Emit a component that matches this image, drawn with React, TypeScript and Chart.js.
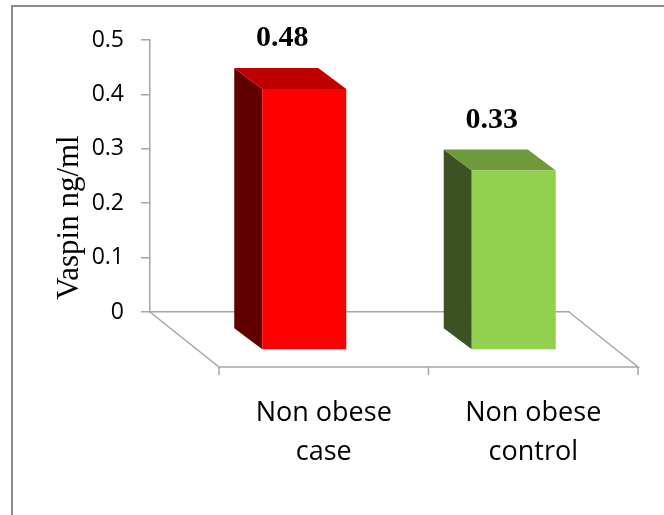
import React, { useEffect, useRef } from 'react';
import { Chart, registerables } from 'chart.js';

Chart.register(...registerables);

// ---- data ----
const categories = [['Non obese', 'case'], ['Non obese', 'control']];
const vaspinValues = [0.48, 0.33];
const valueLabels = ['0.48', '0.33'];
const yTickLabels = ['0', '0.1', '0.2', '0.3', '0.4', '0.5'];
const yAxisTitle = 'Vaspin ng/ml';

// ---- styles ----
const frontColors = ['#FF0000', '#92D050'];
const topColors = ['#C00000', '#6E9A3C'];
const sideColors = ['#600000', '#3C5222'];
const AXIS_GRAY = '#A6A6A6';
const BACK = { dx: 21.5, dy: 17 }; // wall plane -> back face of bars
const DEPTH = { dx: 28, dy: 21 }; // bar depth
const FLOOR = { dx: 69, dy: 55 }; // wall plane -> front edge of floor

const bar3dPlugin = {
  id: 'bar3d',
  beforeDatasetsDraw(chart: any) {
    const { ctx, chartArea } = chart;
    const y0 = chart.scales.y.getPixelForValue(0);
    const left = chartArea.left;
    const right = chartArea.right;
    ctx.save();
    ctx.strokeStyle = AXIS_GRAY;
    ctx.lineWidth = 1.5;
    ctx.beginPath();
    ctx.moveTo(left, y0);
    ctx.lineTo(left + FLOOR.dx, y0 + FLOOR.dy);
    ctx.lineTo(right + FLOOR.dx, y0 + FLOOR.dy);
    ctx.lineTo(right, y0);
    const n = categories.length;
    for (let i = 0; i <= n; i++) {
      const px = left + ((right - left) * i) / n + FLOOR.dx;
      ctx.moveTo(px, y0 + FLOOR.dy);
      ctx.lineTo(px, y0 + FLOOR.dy + 8);
    }
    ctx.stroke();
    ctx.restore();
  },
  beforeDatasetDraw(chart: any, args: any) {
    const { ctx } = chart;
    const meta = chart.getDatasetMeta(args.index);
    ctx.save();
    ctx.translate(BACK.dx, BACK.dy);
    meta.data.forEach((el: any, i: number) => {
      const { x, y, base, width } = el.getProps(['x', 'y', 'base', 'width'], true);
      const l = x - width / 2;
      const r = x + width / 2;
      ctx.fillStyle = sideColors[i];
      ctx.beginPath();
      ctx.moveTo(l, y);
      ctx.lineTo(l + DEPTH.dx, y + DEPTH.dy);
      ctx.lineTo(l + DEPTH.dx, base + DEPTH.dy);
      ctx.lineTo(l, base);
      ctx.closePath();
      ctx.fill();
      ctx.fillStyle = topColors[i];
      ctx.beginPath();
      ctx.moveTo(l, y);
      ctx.lineTo(r, y);
      ctx.lineTo(r + DEPTH.dx, y + DEPTH.dy);
      ctx.lineTo(l + DEPTH.dx, y + DEPTH.dy);
      ctx.closePath();
      ctx.fill();
    });
    ctx.translate(DEPTH.dx, DEPTH.dy);
  },
  afterDatasetDraw(chart: any) {
    chart.ctx.restore();
  },
  afterDatasetsDraw(chart: any) {
    const { ctx, chartArea } = chart;
    const meta = chart.getDatasetMeta(0);
    ctx.save();
    ctx.fillStyle = '#000';
    ctx.font = 'bold 30px "Liberation Serif"';
    ctx.textAlign = 'center';
    ctx.textBaseline = 'middle';
    meta.data.forEach((el: any, i: number) => {
      const { x, y } = el.getProps(['x', 'y'], true);
      ctx.fillText(valueLabels[i], x + BACK.dx + 6, y + BACK.dy - 29.5);
    });
    // y axis title
    ctx.font = '31px "Liberation Serif"';
    ctx.textBaseline = 'alphabetic';
    ctx.translate(chartArea.left - 72, (chartArea.top + chartArea.bottom) / 2 + 41.5);
    ctx.rotate(-Math.PI / 2);
    ctx.fillText(yAxisTitle, 0, 0);
    ctx.restore();
  },
};

export default function App() {
  const ref = useRef<HTMLCanvasElement>(null);
  useEffect(() => {
    if (!ref.current) return;
    const chart = new Chart(ref.current, {
      type: 'bar',
      data: {
        labels: categories as any,
        datasets: [
          {
            data: vaspinValues,
            backgroundColor: frontColors,
            borderWidth: 0,
            categoryPercentage: 1,
            barPercentage: 0.401,
            clip: false as any,
          },
        ],
      },
      options: {
        animation: false,
        responsive: false,
        layout: { padding: { left: 0, top: 40, right: 95, bottom: 0 } },
        plugins: { legend: { display: false }, tooltip: { enabled: false } },
        scales: {
          x: {
            grid: { display: false, drawTicks: false },
            border: { display: true, color: AXIS_GRAY, width: 1.5 },
            ticks: {
              font: { family: 'Open Sans', size: 27, lineHeight: '39px' as any },
              color: '#000',
              padding: 82,
              labelOffset: FLOOR.dx,
              maxRotation: 0,
              minRotation: 0,
              autoSkip: false,
            },
            afterFit: (s: any) => {
              s.height = 203;
            },
          },
          y: {
            min: 0,
            max: 0.5,
            ticks: {
              stepSize: 0.1,
              callback: (_v: any, i: number) => yTickLabels[i],
              font: { family: 'Open Sans', size: 23 },
              color: '#000',
              padding: 17,
            },
            grid: {
              drawOnChartArea: false,
              drawTicks: true,
              tickLength: 9,
              color: AXIS_GRAY,
              lineWidth: 1.5,
            },
            border: { display: true, color: AXIS_GRAY, width: 1.5 },
            afterFit: (s: any) => {
              s.width = 150;
            },
          },
        },
      },
      plugins: [bar3dPlugin],
    });
    return () => chart.destroy();
  }, []);

  return (
    <div style={{ position: 'fixed', left: 0, top: 0, width: 664, height: 515, background: '#fff' }}>
      <canvas
        ref={ref}
        width={664}
        height={515}
        style={{ position: 'absolute', left: 0, top: 0, width: 664, height: 515 }}
      />
      <div
        style={{
          position: 'absolute',
          left: 11,
          top: 5,
          right: 0,
          bottom: 0,
          borderTop: '2px solid #8C8C8C',
          borderLeft: '2px solid #8C8C8C',
          pointerEvents: 'none',
        }}
      />
    </div>
  );
}
